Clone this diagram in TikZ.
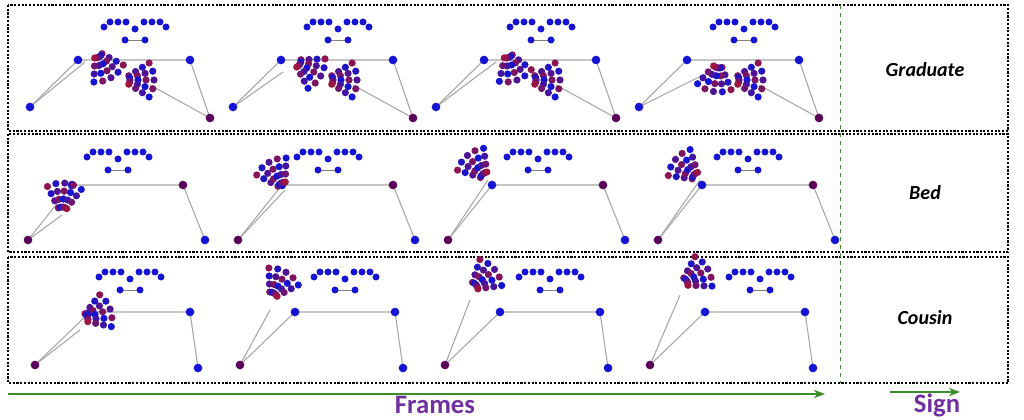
\documentclass[tikz,border=0pt]{standalone}
\usepackage{fontspec}
\setmainfont{Carlito}
\usetikzlibrary{arrows.meta,calc}
\definecolor{gr}{RGB}{60,140,40}
\definecolor{pu}{RGB}{112,48,160}
\definecolor{bl}{RGB}{20,20,210}
\definecolor{rd}{RGB}{170,20,50}
\tikzset{box/.style={line width=1.6pt,dash pattern=on 1.6pt off 1.2pt},
 bone/.style={gray!70,line width=0.8pt},
 jb/.style={circle,fill=bl,inner sep=0pt,minimum size=6.5pt},
 jp/.style={circle,fill=violet!70!black,inner sep=0pt,minimum size=6.5pt},
 lab/.style={font=\bfseries\itshape\fontsize{15}{18}\selectfont}}
\newcommand{\myface}[2]{%
 \foreach \i in {0,1,2}{\fill[bl] (#1-25+\i*8,#2) circle (3.5);\fill[bl] (#1+9+\i*8,#2) circle (3.5);}
 \fill[bl] (#1-31,#2+5) circle (3.5);\fill[bl] (#1+31,#2+5) circle (3.5);
 \fill[bl] (#1,#2+7) circle (3.5);
 \draw[gray] (#1-10,#2+18)--(#1+10,#2+18);
 \fill[bl] (#1-10,#2+18) circle (3.5);\fill[bl] (#1+10,#2+18) circle (3.5);}
\newcommand{\myhand}[3]{%
 \foreach \f in {0,...,4}{\foreach \k in {1,...,4}{
  \pgfmathsetmacro{\m}{mod(\f*3+\k*7,10)*10}
  \fill[rd!\m!bl] ($(#1,#2)+(#3-32+\f*16:\k*8)$) circle (3.6);}}}
\begin{document}
\begin{tikzpicture}[x=0.75pt,y=-0.75pt]
\useasboundingbox (0,0) rectangle (1024,420);
\draw[box] (8,5) rectangle (1008,131);
\draw[box] (8,134) rectangle (1008,252);
\draw[box] (8,257) rectangle (1008,383);
\draw[gr,dashed] (840,5)--(840,383);
\node[lab] (g) at (925,70) {Graduate};
\node[lab] (b) at (925,193) {Bed};
\node[lab] (c) at (925,318) {Cousin};
\draw[gr,line width=1.2pt,-{Stealth}] (8,394)--(825,394);
\draw[gr,line width=1.2pt,-{Stealth}] (890,392)--(960,392);
\node[pu,font=\bfseries\fontsize{20}{24}\selectfont] (f) at (435,405) {Frames};
\node[pu,font=\bfseries\fontsize{20}{24}\selectfont] (s) at (937,405) {Sign};
% row 1
\foreach \d/\hx/\hy/\a in {0/95/50/60,203/90/60/30,406/100/50/70,609/110/60/100}{
 \begin{scope}[shift={(\d,0)}]
 \draw[bone] (30,107)--(78,60)--(190,60)--(210,118)--(150,85);
 \draw[bone] (30,107)--(\hx-10,\hy+12);
 \myface{135}{22}
 \node[jb] at (78,60){};\node[jb] at (190,60){};\node[jb] at (30,107){};\node[jp] at (210,118){};
 \myhand{\hx}{\hy}{\a}
 \myhand{122}{80}{0}
 \end{scope}}
% row 2
\foreach \d/\hx/\hy/\a in {0/62/215/-85,210/75/190/-120,420/68/180/-130,630/70/180/-140}{
 \begin{scope}[shift={(\d,0)}]
 \draw[bone] (28,240)--(72,185)--(183,185)--(205,240);
 \draw[bone] (28,240)--(\hx,\hy);
 \myface{118}{152}
 \node[jb] at (72,185){};\node[jp] at (183,185){};\node[jp] at (28,240){};\node[jb] at (205,240){};
 \myhand{\hx}{\hy}{\a}
 \end{scope}}
% row 3
\foreach \d/\hx/\hy/\a/\fx in {0/80/320/-20/130,205/65/300/-60/345,410/60/290/-40/550,615/65/285/-30/760}{
 \begin{scope}[shift={(\d,0)}]
 \draw[bone] (35,365)--(90,312)--(190,312)--(198,368);
 \draw[bone] (35,365)--(\hx,\hy+10);
 \node[jb] at (90,312){};\node[jb] at (190,312){};\node[jp] at (35,365){};\node[jb] at (198,368){};
 \myhand{\hx}{\hy}{\a}
 \end{scope}
 \myface{\fx}{272}}
\end{tikzpicture}
\end{document}
